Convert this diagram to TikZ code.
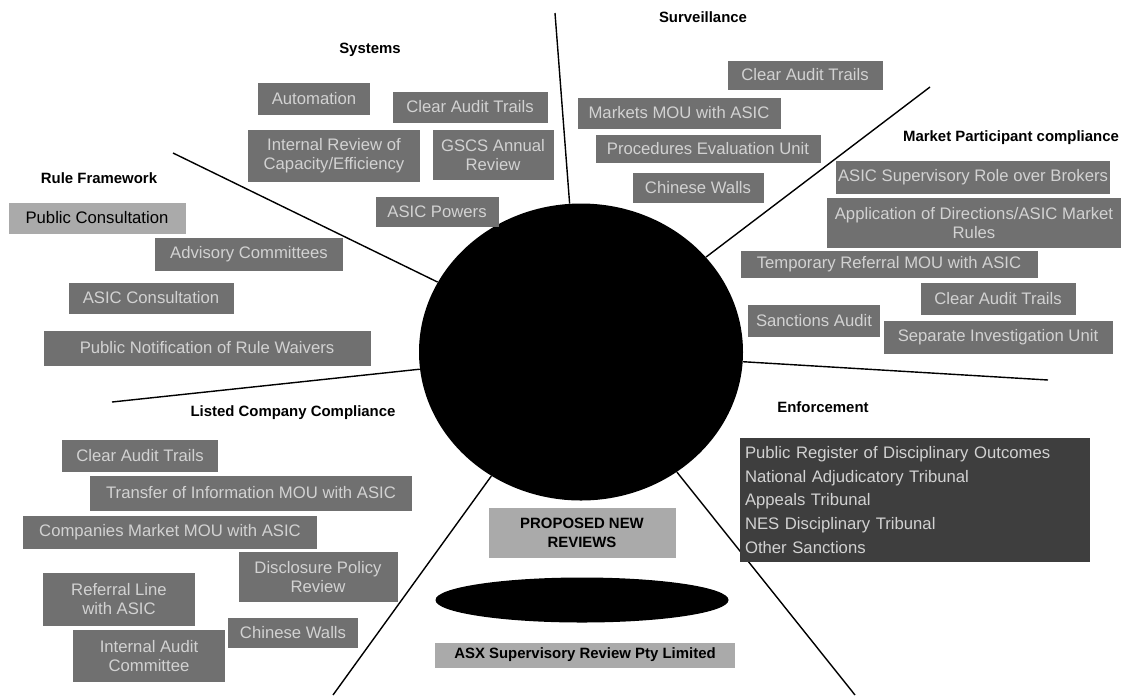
\documentclass[tikz,border=0pt]{standalone}
\usepackage{fontspec}
\setmainfont{Liberation Sans}
\usepackage{tikz}
\usetikzlibrary{shapes.geometric}

\definecolor{boxgrey}{RGB}{112,112,112}
\definecolor{boxtext}{RGB}{210,210,210}
\definecolor{palegrey}{RGB}{170,170,170}
\definecolor{darkgrey}{RGB}{62,62,62}

\begin{document}
\begin{tikzpicture}[x=0.02cm, y=-0.02cm,
  boxsize/.style 2 args={minimum width=#1*0.02cm, minimum height=#2*0.02cm},
  heading/.style={font=\fontsize{8.5}{10}\selectfont\bfseries},
  greybox/.style={fill=boxgrey, text=boxtext, inner sep=1pt, align=center,
    font=\fontsize{9.5}{11}\selectfont},
  palebox/.style={fill=palegrey, text=black, inner sep=1pt, align=center,
    font=\fontsize{8.5}{10.5}\selectfont\bfseries},
  divider/.style={line width=0.8pt}]

\useasboundingbox (0,0) rectangle (1123,698);

% Centre
\node[ellipse, fill=black, inner sep=0pt, boxsize={324}{297}] (hub) at (581,352) {};

% Dividing lines
\coordinate (survEnd) at (555,13);
\coordinate (mpEnd) at (930,87);
\coordinate (enfEnd) at (1048,380);
\coordinate (brEnd) at (855,695);
\coordinate (blEnd) at (333,695);
\coordinate (lcEnd) at (112,402);
\coordinate (ruleEnd) at (173,153);
\foreach \e in {survEnd,mpEnd,enfEnd,brEnd,blEnd,lcEnd,ruleEnd}
  \draw[divider] (\e) -- (hub);

% Headings
\node[heading] (sysHead) at (370,50) {Systems};
\node[heading] (survHead) at (703,17) {Surveillance};
\node[heading] (mpHead) at (1011,138) {Market Participant compliance};
\node[heading] (ruleHead) at (99,178) {Rule Framework};
\node[heading] (lcHead) at (293,413) {Listed Company Compliance};
\node[heading] (enfHead) at (823,407) {Enforcement};

% Systems
\node[greybox, boxsize={112}{32}] (sysA) at (314,99) {Automation};
\node[greybox, boxsize={155}{31}] (sysB) at (470,107) {Clear Audit Trails};
\node[greybox, boxsize={172}{52}] (sysC) at (334,156) {Internal Review of\\Capacity/Efficiency};
\node[greybox, boxsize={121}{50}] (sysD) at (493,155) {GSCS Annual\\Review};
\node[greybox, boxsize={123}{30}] (sysE) at (437,212) {ASIC Powers};

% Surveillance
\node[greybox, boxsize={155}{29}] (survA) at (805,75) {Clear Audit Trails};
\node[greybox, boxsize={203}{31}] (survB) at (679,113) {Markets MOU with ASIC};
\node[greybox, boxsize={225}{28}] (survC) at (708,149) {Procedures Evaluation Unit};
\node[greybox, boxsize={131}{30}] (survD) at (698,188) {Chinese Walls};

% Market participant compliance
\node[greybox, boxsize={259}{33}] (mpA) at (973,177) {ASIC Supervisory Role over Brokers};
\node[greybox, boxsize={294}{50}] (mpB) at (974,223) {Application of Directions/ASIC Market\\Rules};
\node[greybox, boxsize={297}{27}] (mpC) at (889,264) {Temporary Referral MOU with ASIC};
\node[greybox, boxsize={155}{32}] (mpD) at (998,299) {Clear Audit Trails};
\node[greybox, boxsize={132}{32}] (mpE) at (814,321) {Sanctions Audit};
\node[greybox, boxsize={229}{33}] (mpF) at (998,337) {Separate Investigation Unit};

% Rule framework
\node[palebox, font=\fontsize{9.5}{11}\selectfont, boxsize={177}{31}] (ruleA) at (97,218) {Public Consultation};
\node[greybox, boxsize={188}{33}] (ruleB) at (249,254) {Advisory Committees};
\node[greybox, boxsize={165}{31}] (ruleC) at (151,298) {ASIC Consultation};
\node[greybox, boxsize={327}{35}] (ruleD) at (207,348) {Public Notification of Rule Waivers};

% Listed company compliance
\node[greybox, boxsize={156}{32}] (lcA) at (140,456) {Clear Audit Trails};
\node[greybox, boxsize={322}{35}] (lcB) at (251,493) {Transfer of Information MOU with ASIC};
\node[greybox, boxsize={294}{33}] (lcC) at (170,532) {Companies Market MOU with ASIC};
\node[greybox, boxsize={159}{50}] (lcD) at (318,577) {Disclosure Policy\\Review};
\node[greybox, boxsize={152}{53}] (lcE) at (119,599) {Referral Line\\with ASIC};
\node[greybox, boxsize={130}{30}] (lcF) at (293,633) {Chinese Walls};
\node[greybox, boxsize={152}{52}] (lcG) at (149,656) {Internal Audit\\Committee};

% Enforcement
\node[greybox, fill=darkgrey, align=left, text width=6.8cm, inner xsep=0.1cm,
  boxsize={350}{124}, font=\fontsize{9.5}{13.5}\selectfont] (enfBox) at (915,500)
  {Public Register of Disciplinary Outcomes\\
   National Adjudicatory Tribunal\\
   Appeals Tribunal\\
   NES Disciplinary Tribunal\\
   Other Sanctions};

% Proposed reviews
\node[palebox, boxsize={187}{50}] (newRev) at (582,533) {PROPOSED NEW\\REVIEWS};
\node[ellipse, fill=black, inner sep=0pt, boxsize={293}{45}] (asxDisc) at (582,600) {};
\node[palebox, boxsize={300}{25}] (asxRev) at (585,655) {ASX Supervisory Review Pty Limited};

\end{tikzpicture}
\end{document}
